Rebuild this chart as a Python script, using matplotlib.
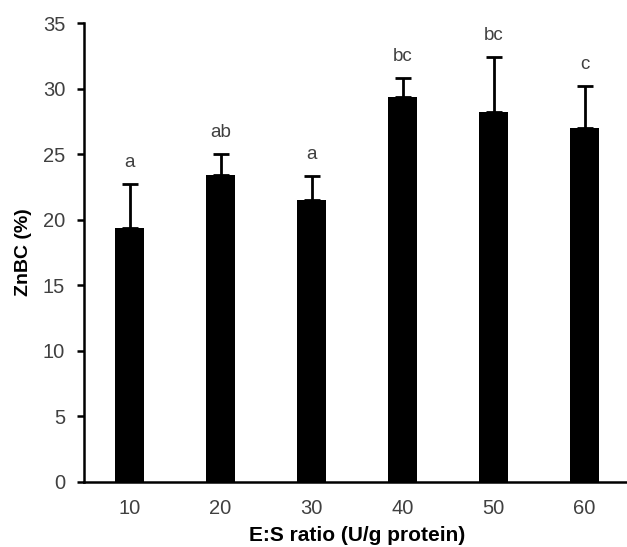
import matplotlib
matplotlib.use("Agg")
import matplotlib.pyplot as plt
import numpy as np

plt.rcParams['font.family'] = ['Liberation Sans', 'DejaVu Sans']

categories = ['10', '20', '30', '40', '50', '60']
values = [19.4, 23.4, 21.5, 29.4, 28.25, 27.0]
errors = [3.35, 1.6, 1.85, 1.45, 4.2, 3.2]
letters = ['a', 'ab', 'a', 'bc', 'bc', 'c']
yticks = [0, 5, 10, 15, 20, 25, 30, 35]

W, H = 627, 547
fig = plt.figure(figsize=(W / 100, H / 100), dpi=100)
ax = fig.add_axes([84 / W, 1 - 481.5 / H, 546 / W, (481.5 - 23.3) / H])

x = np.arange(len(categories))
ax.bar(x, values, width=0.31, color='black', linewidth=0, zorder=2)
ax.errorbar(x, values, yerr=[np.zeros(len(errors)), errors], fmt='none',
            ecolor='black', elinewidth=2.0, capsize=6, capthick=2.0, zorder=3)

for xi, v, e, lab in zip(x, values, errors, letters):
    ax.text(xi, v + e + 1.65, lab, ha='center', va='center', fontsize=13.5, color='#404040')

ax.set_xlim(-0.5, len(categories) - 0.5)
ax.set_ylim(0, 35)
ax.set_yticks(yticks)
ax.set_xticks(x)
ax.set_xticklabels(categories)

for s in ['top', 'right']:
    ax.spines[s].set_visible(False)
for s in ['left', 'bottom']:
    ax.spines[s].set_linewidth(1.8)
    ax.spines[s].set_color('black')

ax.tick_params(axis='y', direction='out', length=5, width=1.8, labelsize=14.5, labelcolor='#404040', pad=8.5)
ax.tick_params(axis='x', length=0, labelsize=14.5, labelcolor='#404040', pad=12.5)

ax.set_ylabel('ZnBC (%)', fontsize=14, fontweight='bold', labelpad=8)
ax.set_xlabel('E:S ratio (U/g protein)', fontsize=15, fontweight='bold', labelpad=6)

fig.savefig('out.png', dpi=100)
